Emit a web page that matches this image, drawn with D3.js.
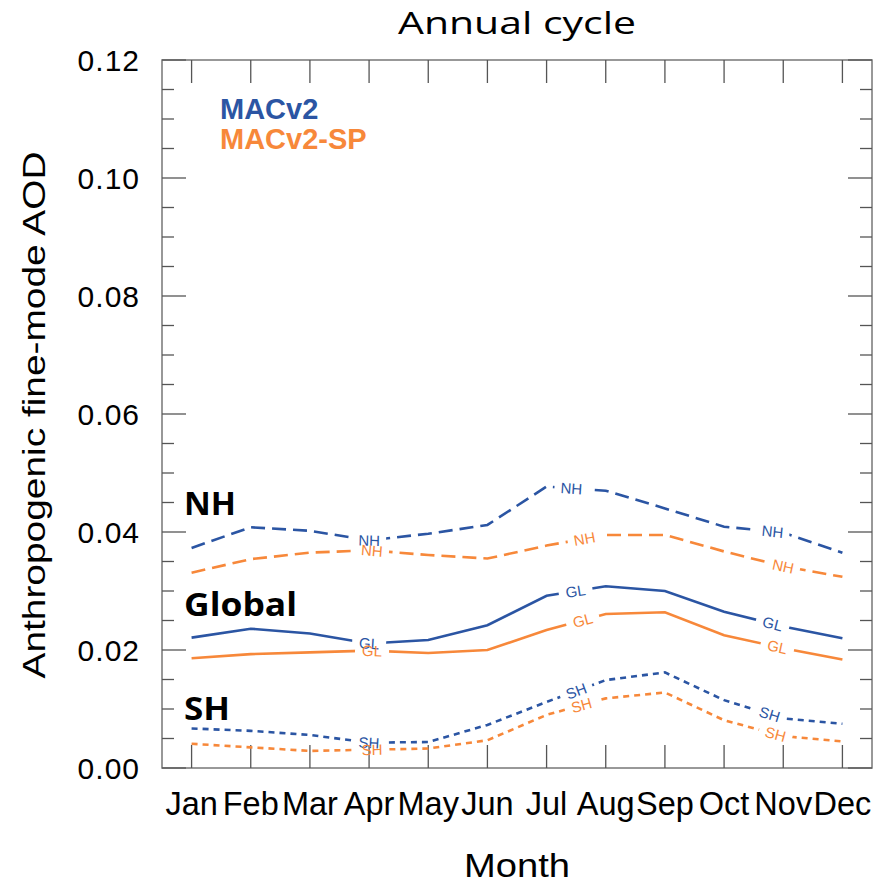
<!DOCTYPE html>
<html>
<head>
<meta charset="utf-8">
<script src="https://cdn.jsdelivr.net/npm/d3@7"></script>
<style>
  html, body { margin: 0; padding: 0; background: #fff; }
  svg { display: block; }
</style>
</head>
<body>
<svg id="chart" width="874" height="885"></svg>
<script>
// ---------------- DATA ----------------
const months = ["Jan","Feb","Mar","Apr","May","Jun","Jul","Aug","Sep","Oct","Nov","Dec"];

const macv2_NH   = [0.0373,0.0408,0.0402,0.0386,0.0397,0.0412,0.0477,0.0470,0.0440,0.0409,0.0399,0.0365];
const macv2sp_NH = [0.0331,0.0354,0.0365,0.0369,0.0361,0.0355,0.0377,0.0395,0.0395,0.0367,0.0342,0.0324];
const macv2_GL   = [0.0221,0.0236,0.0228,0.0211,0.0217,0.0242,0.0292,0.0308,0.0300,0.0265,0.0240,0.0220];
const macv2sp_GL = [0.0186,0.0193,0.0196,0.0199,0.0195,0.0200,0.0234,0.0261,0.0264,0.0225,0.0203,0.0184];
const macv2_SH   = [0.0067,0.0063,0.0056,0.0043,0.0044,0.0073,0.0112,0.0149,0.0162,0.0115,0.0084,0.0075];
const macv2sp_SH = [0.0041,0.0035,0.0029,0.0031,0.0033,0.0047,0.0090,0.0118,0.0128,0.0081,0.0054,0.0045];

const yTickValues = [0.00,0.02,0.04,0.06,0.08,0.10,0.12];
const yTickLabels = ["0.00","0.02","0.04","0.06","0.08","0.10","0.12"];

const seriesNames = ["MACv2","MACv2-SP"];
const regionNames = ["NH","Global","SH"];

// ---------------- STYLE / LAYOUT ----------------
const blue = "#2b55a3";
const orange = "#f7883a";
const pL = 162, pR = 872, pT = 60, pB = 768;

const series = [
  {values: macv2_NH,   color: blue,   dash: "14,7", label: "NH", at: [4.0, 7.42, 10.82]},
  {values: macv2sp_NH, color: orange, dash: "14,7", label: "NH", at: [4.05, 7.64, 11.0]},
  {values: macv2_GL,   color: blue,   dash: null,   label: "GL", at: [4.0, 7.49, 10.82]},
  {values: macv2sp_GL, color: orange, dash: null,   label: "GL", at: [4.05, 7.61, 10.9]},
  {values: macv2_SH,   color: blue,   dash: "6,5",  label: "SH", at: [4.0, 7.5, 10.77]},
  {values: macv2sp_SH, color: orange, dash: "6,5",  label: "SH", at: [4.05, 7.59, 10.87]}
];

const svg = d3.select("#chart");
const x = d3.scaleLinear().domain([0.5, 12.5]).range([pL, pR]);
const y = d3.scaleLinear().domain([0, 0.12]).range([pB, pT]);

const tickColor = "#555";
const sans = "'Liberation Sans', Arial, Helvetica, sans-serif";

// Title
svg.append("text")
  .attr("x", 517).attr("y", 34)
  .attr("text-anchor", "middle")
  .attr("font-family", "'Open Sans', sans-serif")
  .attr("font-size", 31)
  .attr("textLength", 238).attr("lengthAdjust", "spacingAndGlyphs")
  .text("Annual cycle");

// Frame
svg.append("rect")
  .attr("x", pL).attr("y", pT)
  .attr("width", pR - pL).attr("height", pB - pT)
  .attr("fill", "none").attr("stroke", "#777").attr("stroke-width", 1.5);

// Y ticks (left and right, inward)
const yMinor = d3.range(0, 0.1201, 0.005);
svg.append("g").selectAll("g")
  .data(yMinor)
  .join("g")
  .each(function(v) {
    const major = Math.abs(Math.round(v / 0.02) * 0.02 - v) < 1e-6;
    const len = major ? 24 : 12;
    const g = d3.select(this);
    g.append("line").attr("x1", pL).attr("x2", pL + len)
      .attr("y1", y(v)).attr("y2", y(v))
      .attr("stroke", tickColor).attr("stroke-width", 1.3);
    g.append("line").attr("x1", pR).attr("x2", pR - len)
      .attr("y1", y(v)).attr("y2", y(v))
      .attr("stroke", tickColor).attr("stroke-width", 1.3);
  });

// Y tick labels
svg.append("g").selectAll("text")
  .data(yTickValues)
  .join("text")
  .attr("x", 140).attr("y", d => y(d))
  .attr("dy", "0.36em")
  .attr("text-anchor", "end")
  .attr("font-family", sans)
  .attr("font-size", 30)
  .attr("letter-spacing", 1)
  .text((d, i) => yTickLabels[i]);

// X ticks (top and bottom, inward)
svg.append("g").selectAll("g")
  .data(months)
  .join("g")
  .each(function(m, i) {
    const g = d3.select(this);
    const xx = x(i + 1);
    g.append("line").attr("x1", xx).attr("x2", xx)
      .attr("y1", pB).attr("y2", pB - 23)
      .attr("stroke", tickColor).attr("stroke-width", 1.3);
    g.append("line").attr("x1", xx).attr("x2", xx)
      .attr("y1", pT).attr("y2", pT + 23)
      .attr("stroke", tickColor).attr("stroke-width", 1.3);
  });

// X tick labels
svg.append("g").selectAll("text")
  .data(months)
  .join("text")
  .attr("x", (d, i) => x(i + 1))
  .attr("y", 815)
  .attr("text-anchor", "middle")
  .attr("font-family", sans)
  .attr("font-size", 32.5)
  .text(d => d);

// Axis titles
svg.append("text")
  .attr("x", 517).attr("y", 877)
  .attr("text-anchor", "middle")
  .attr("font-family", sans)
  .attr("font-size", 34)
  .attr("textLength", 106).attr("lengthAdjust", "spacingAndGlyphs")
  .text("Month");

svg.append("text")
  .attr("transform", "translate(45,415) rotate(-90)")
  .attr("text-anchor", "middle")
  .attr("font-family", sans)
  .attr("font-size", 32)
  .attr("textLength", 527).attr("lengthAdjust", "spacingAndGlyphs")
  .text("Anthropogenic fine-mode AOD");

// Lines with inline labels
const defs = svg.append("defs");
const line = d3.line().x((d, i) => x(i + 1)).y(d => y(d));

function labelPos(values, m) {
  const i0 = Math.min(Math.floor(m), 11);
  const t = m - i0;
  const v = values[i0 - 1] + (values[i0] - values[i0 - 1]) * t;
  const px = x(m), py = y(v);
  function segAngle(a) { // segment from month a to a+1
    const x0 = x(a), y0 = y(values[a - 1]), x1 = x(a + 1), y1 = y(values[a]);
    return Math.atan2(y1 - y0, x1 - x0) * 180 / Math.PI;
  }
  let ang;
  if (t < 1e-6 && i0 > 1) ang = (segAngle(i0 - 1) + segAngle(i0)) / 2;
  else ang = segAngle(i0);
  return {px, py, ang};
}

const linesG = svg.append("g");
const labelsG = svg.append("g");
series.forEach((s, k) => {
  const mask = defs.append("mask")
    .attr("id", "m" + k)
    .attr("maskUnits", "userSpaceOnUse")
    .attr("x", 0).attr("y", 0).attr("width", 874).attr("height", 885);
  mask.append("rect").attr("x", 0).attr("y", 0).attr("width", 874).attr("height", 885).attr("fill", "#fff");
  s.at.forEach(m => {
    const p = labelPos(s.values, m);
    mask.append("rect")
      .attr("x", -17).attr("y", -10).attr("width", 34).attr("height", 20)
      .attr("fill", "#000")
      .attr("transform", `translate(${p.px},${p.py}) rotate(${p.ang})`);
    labelsG.append("text")
      .attr("transform", `translate(${p.px},${p.py}) rotate(${p.ang})`)
      .attr("text-anchor", "middle")
      .attr("dy", "0.36em")
      .attr("font-family", sans)
      .attr("font-size", 15)
      .attr("fill", s.color)
      .text(s.label);
  });
  linesG.append("path")
    .datum(s.values)
    .attr("d", line)
    .attr("fill", "none")
    .attr("stroke", s.color)
    .attr("stroke-width", 2.6)
    .attr("stroke-dasharray", s.dash)
    .attr("mask", `url(#m${k})`);
});

// Legend
svg.append("text")
  .attr("x", 220).attr("y", 119)
  .attr("font-family", sans).attr("font-weight", "bold").attr("font-size", 29)
  .attr("fill", blue).text(seriesNames[0]);
svg.append("text")
  .attr("x", 220).attr("y", 149)
  .attr("font-family", sans).attr("font-weight", "bold").attr("font-size", 29)
  .attr("fill", orange).text(seriesNames[1]);

// Region labels
const regionY = [515, 616, 720];
const regionW = [52, 113, 46];
svg.append("g").selectAll("text")
  .data(regionNames)
  .join("text")
  .attr("x", 184).attr("y", (d, i) => regionY[i])
  .attr("font-family", "'Open Sans', sans-serif")
  .attr("font-weight", "bold")
  .attr("font-size", 32)
  .attr("textLength", (d, i) => regionW[i]).attr("lengthAdjust", "spacingAndGlyphs")
  .text(d => d);
</script>
</body>
</html>
